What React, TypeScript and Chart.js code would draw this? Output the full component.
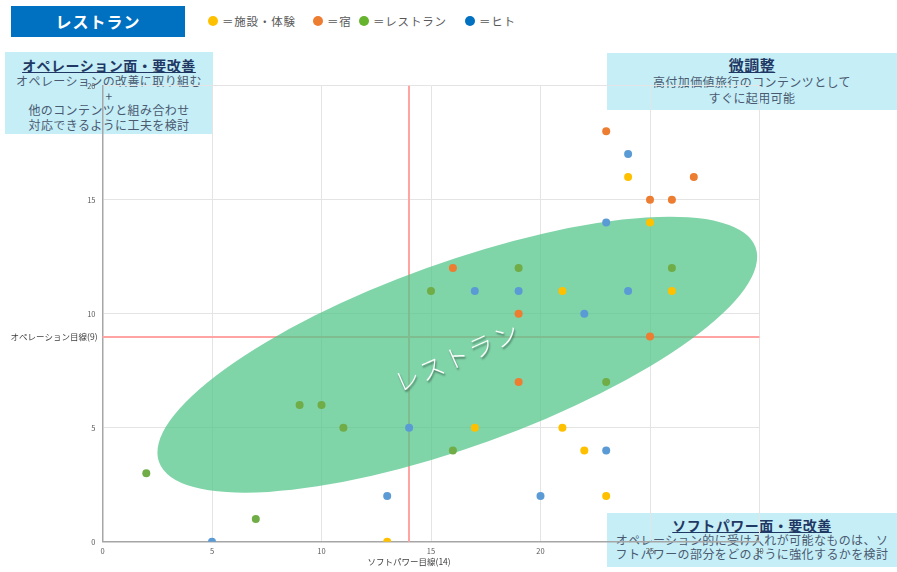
import React, { useEffect, useRef } from "react";
import { Chart, registerables } from "chart.js";

Chart.register(...registerables);

// [ソフトパワー, オペレーション] pairs per category
const facilityPoints: number[][] = [[24, 16], [25, 14], [26, 11], [21, 11], [17, 5], [21, 5], [22, 4], [23, 2], [13, 0]];
const innPoints: number[][] = [[23, 18], [25, 15], [26, 15], [27, 16], [16, 12], [19, 10], [25, 9], [19, 7]];
const restaurantPoints: number[][] = [[19, 12], [26, 12], [15, 11], [23, 7], [9, 6], [10, 6], [11, 5], [16, 4], [2, 3], [7, 1]];
const peoplePoints: number[][] = [[24, 17], [23, 14], [17, 11], [19, 11], [24, 11], [22, 10], [14, 5], [23, 4], [13, 2], [20, 2], [5, 0]];

const seriesNames = ["施設・体験", "宿", "レストラン", "ヒト"];
const seriesColors = ["#FFC000", "#ED7D31", "#70AD47", "#5B9BD5"];
const legendColors = ["#FFC000", "#ED7D31", "#66B32E", "#0070C0"];

const xRange = [0, 30];
const yRange = [0, 20];
const tickStep = 5;

const softPowerLine = 14;
const operationLine = 9;
const softPowerLabel = "ソフトパワー目線(14)";
const operationLabel = "オペレーション目線(9)";

// highlighted cluster (centre in data units)
const clusterCenter = [16.2, 8.2];
const clusterName = "レストラン";

const FONT = '"Noto Sans CJK JP", "Noto Sans", sans-serif';

const toXY = (pts: number[][]) => pts.map(([x, y]) => ({ x, y }));

const overlayPlugin = {
  id: "quadrantOverlay",
  beforeDatasetsDraw(chart: any) {
    const { ctx, chartArea, scales } = chart;
    const xs = scales.x;
    const ys = scales.y;
    ctx.save();
    // reference lines
    ctx.globalAlpha = 1;
    ctx.setLineDash([]);
    ctx.strokeStyle = "#FFA3A3";
    ctx.lineWidth = 2;
    const vx = Math.round(xs.getPixelForValue(softPowerLine));
    const hy = Math.round(ys.getPixelForValue(operationLine));
    ctx.beginPath();
    ctx.moveTo(vx, chartArea.top);
    ctx.lineTo(vx, chartArea.bottom);
    ctx.stroke();
    ctx.beginPath();
    ctx.moveTo(chartArea.left, hy);
    ctx.lineTo(chartArea.right, hy);
    ctx.stroke();

    // cluster ellipse
    const cx = xs.getPixelForValue(clusterCenter[0]);
    const cy = ys.getPixelForValue(clusterCenter[1]);
    ctx.fillStyle = "rgba(84,198,139,0.75)";
    ctx.beginPath();
    ctx.ellipse(cx, cy, 317, 92, (-19.8 * Math.PI) / 180, 0, Math.PI * 2);
    ctx.fill();

    // cluster name
    ctx.translate(cx, cy + 2);
    ctx.rotate((-24 * Math.PI) / 180);
    ctx.font = `300 25px ${FONT}`;
    (ctx as any).letterSpacing = "2px";
    ctx.textAlign = "center";
    ctx.textBaseline = "middle";
    ctx.shadowColor = "rgba(0,0,0,0.45)";
    ctx.shadowOffsetX = 1;
    ctx.shadowOffsetY = 2;
    ctx.shadowBlur = 2;
    ctx.fillStyle = "#ffffff";
    ctx.fillText(clusterName, 0, 0);
    ctx.restore();
  },
  afterDraw(chart: any) {
    const { ctx, chartArea, scales } = chart;
    ctx.save();
    ctx.font = `8.5px ${FONT}`;
    ctx.fillStyle = "#404040";
    ctx.textBaseline = "middle";
    ctx.textAlign = "right";
    ctx.fillText(operationLabel, chartArea.left - 5, scales.y.getPixelForValue(operationLine));
    ctx.textAlign = "center";
    ctx.fillText(softPowerLabel, scales.x.getPixelForValue(softPowerLine), chartArea.bottom + 20);
    ctx.restore();
  },
};

const boxStyle: React.CSSProperties = {
  position: "absolute",
  background: "#C5EEF7",
  textAlign: "center",
  color: "#4A5A70",
  fontSize: 12,
  letterSpacing: 0.4,
  boxSizing: "border-box",
  zIndex: 0,
};
const boxTitle: React.CSSProperties = {
  fontWeight: 700,
  fontSize: 14,
  color: "#1F3864",
  textDecoration: "underline",
  letterSpacing: 0.5,
};

export default function App() {
  const canvasRef = useRef<HTMLCanvasElement | null>(null);

  useEffect(() => {
    if (!canvasRef.current) return;
    const all = [facilityPoints, innPoints, restaurantPoints, peoplePoints];
    const chart = new Chart(canvasRef.current, {
      type: "scatter",
      data: {
        datasets: all.map((pts, i) => ({
          label: seriesNames[i],
          data: toXY(pts),
          backgroundColor: seriesColors[i],
          borderWidth: 0,
          pointRadius: 4,
          pointHoverRadius: 4,
        })),
      },
      options: {
        responsive: false,
        animation: false,
        events: [],
        layout: { padding: { top: 85.7, right: 137.5, bottom: 0, left: 0 } },
        plugins: { legend: { display: false }, tooltip: { enabled: false } },
        scales: {
          x: {
            type: "linear",
            min: xRange[0],
            max: xRange[1],
            afterFit: (s: any) => {
              s.height = 30.3;
            },
            ticks: { stepSize: tickStep, font: { size: 7.5, family: FONT }, color: "#595959", padding: 5 },
            grid: { color: "#e4e4e4", drawTicks: false },
            border: { color: "#a6a6a6", width: 1.5 },
          },
          y: {
            type: "linear",
            min: yRange[0],
            max: yRange[1],
            afterFit: (s: any) => {
              s.width = 102.5;
            },
            ticks: { stepSize: tickStep, font: { size: 7.5, family: FONT }, color: "#595959", padding: 7 },
            grid: { color: "#e4e4e4", drawTicks: false },
            border: { color: "#a6a6a6", width: 1.5 },
          },
        },
      },
      plugins: [overlayPlugin],
    } as any);
    return () => chart.destroy();
  }, []);

  const legendLeft = [208, 313, 359, 465];

  return (
    <div
      style={{
        position: "fixed",
        left: 0,
        top: 0,
        width: 897,
        height: 572,
        background: "#ffffff",
        overflow: "hidden",
        fontFamily: FONT,
      }}
    >
      <div
        style={{
          position: "absolute",
          left: 11,
          top: 6,
          width: 174,
          height: 31,
          background: "#0070C0",
          color: "#ffffff",
          fontWeight: 700,
          fontSize: 16,
          letterSpacing: 1,
          lineHeight: "31px",
          textAlign: "center",
        }}
      >
        レストラン
      </div>

      {seriesNames.map((name, i) => (
        <div
          key={name}
          style={{
            position: "absolute",
            left: legendLeft[i],
            top: 12,
            height: 18,
            display: "flex",
            alignItems: "center",
            fontSize: 11.5,
            color: "#595959",
            letterSpacing: 0.8,
            whiteSpace: "nowrap",
          }}
        >
          <span
            style={{
              display: "inline-block",
              width: 10,
              height: 10,
              borderRadius: 5,
              background: legendColors[i],
              marginRight: 4,
            }}
          />
          ＝{name}
        </div>
      ))}

      <div style={{ ...boxStyle, left: 5, top: 52, width: 208, height: 82, paddingTop: 4 }}>
        <div style={{ ...boxTitle, lineHeight: "18px" }}>オペレーション面・要改善</div>
        <div style={{ lineHeight: "14.7px" }}>オペレーションの改善に取り組む</div>
        <div style={{ lineHeight: "14.7px" }}>+</div>
        <div style={{ lineHeight: "14.7px" }}>他のコンテンツと組み合わせ</div>
        <div style={{ lineHeight: "14.7px" }}>対応できるように工夫を検討</div>
      </div>

      <div style={{ ...boxStyle, left: 607, top: 53, width: 290, height: 57, paddingTop: 3 }}>
        <div style={{ ...boxTitle, fontSize: 15, lineHeight: "18px" }}>微調整</div>
        <div style={{ lineHeight: "15.5px" }}>高付加価値旅行のコンテンツとして</div>
        <div style={{ lineHeight: "15.5px" }}>すぐに起用可能</div>
      </div>

      <div style={{ ...boxStyle, left: 607, top: 513, width: 290, height: 54, paddingTop: 4 }}>
        <div style={{ ...boxTitle, lineHeight: "16px" }}>ソフトパワー面・要改善</div>
        <div style={{ lineHeight: "14px" }}>オペレーション的に受け入れが可能なものは、ソ</div>
        <div style={{ lineHeight: "14px" }}>フトパワーの部分をどのように強化するかを検討</div>
      </div>

      <canvas
        ref={canvasRef}
        width={897}
        height={572}
        style={{ position: "absolute", left: 0, top: 0, zIndex: 1 }}
      />
    </div>
  );
}
